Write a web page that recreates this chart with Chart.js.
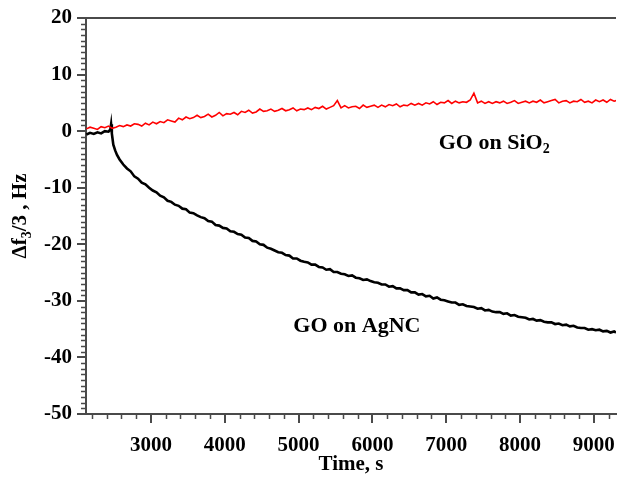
<!DOCTYPE html>
<html lang="en">
<head>
<meta charset="UTF-8">
<title>QCM frequency shift</title>
<script src="https://cdn.jsdelivr.net/npm/chart.js"></script>
<style>
  html, body { margin: 0; padding: 0; background: #fff; }
  #wrap { width: 617px; height: 477px; }
</style>
</head>
<body>
<div id="wrap"><canvas id="qcm" width="617" height="477"></canvas></div>
<script>
  // axis ticks
  const xTicks = [3000, 4000, 5000, 6000, 7000, 8000, 9000];
  const yTicks = [-50, -40, -30, -20, -10, 0, 10, 20];

  // GO on SiO2 (red)
  const redTime = [
    2125, 2175, 2225, 2275, 2325, 2375, 2425, 2475, 2525, 2575,
    2625, 2675, 2725, 2775, 2825, 2875, 2925, 2975, 3025, 3075,
    3125, 3175, 3225, 3275, 3325, 3375, 3425, 3475, 3525, 3575,
    3625, 3675, 3725, 3775, 3825, 3875, 3925, 3975, 4025, 4075,
    4125, 4175, 4225, 4275, 4325, 4375, 4425, 4475, 4525, 4575,
    4625, 4675, 4725, 4775, 4825, 4875, 4925, 4975, 5025, 5075,
    5125, 5175, 5225, 5275, 5325, 5375, 5425, 5475, 5525, 5575,
    5625, 5675, 5725, 5775, 5825, 5875, 5925, 5975, 6025, 6075,
    6125, 6175, 6225, 6275, 6325, 6375, 6425, 6475, 6525, 6575,
    6625, 6675, 6725, 6775, 6825, 6875, 6925, 6975, 7025, 7075,
    7125, 7175, 7225, 7275, 7325, 7375, 7425, 7475, 7525, 7575,
    7625, 7675, 7725, 7775, 7825, 7875, 7925, 7975, 8025, 8075,
    8125, 8175, 8225, 8275, 8325, 8375, 8425, 8475, 8525, 8575,
    8625, 8675, 8725, 8775, 8825, 8875, 8925, 8975, 9025, 9075,
    9125, 9175, 9225, 9275, 9300
  ];
  const redShift = [
    0.4, 0.7, 0.5, 0.3, 0.8, 0.6, 0.9, 0.5, 0.7, 1.0,
    0.8, 1.1, 0.9, 1.3, 1.2, 0.9, 1.4, 1.1, 1.6, 1.3,
    1.7, 1.5, 2.0, 1.8, 1.6, 2.3, 2.0, 2.5, 2.2, 2.4,
    2.8, 2.4, 2.6, 3.0, 2.5, 2.8, 3.3, 2.7, 3.1, 3.0,
    3.3, 2.9, 3.5, 3.3, 3.7, 3.2, 3.4, 3.9, 3.5, 3.6,
    3.9, 3.5, 3.7, 4.0, 3.6, 3.8, 4.1, 3.6, 3.9, 3.8,
    4.1, 3.8, 4.2, 4.0, 4.4, 3.9, 4.2, 4.5, 5.4, 4.1,
    4.5, 4.1, 4.3, 4.4, 4.0, 4.6, 4.2, 4.4, 4.6, 4.2,
    4.6, 4.3, 4.7, 4.5, 4.8, 4.3, 4.6, 4.5, 4.9, 4.6,
    4.9, 4.6, 5.0, 4.8, 5.2, 4.7, 5.1, 5.0, 5.4, 4.9,
    5.3, 5.0, 5.2, 5.1, 5.5, 6.7, 5.0, 5.3, 4.9, 5.2,
    4.9, 5.2, 5.0, 5.3, 4.9, 5.1, 5.4, 4.9, 5.1, 5.3,
    5.0, 5.3, 5.1, 5.5, 5.0, 5.2, 5.4, 5.6, 5.0, 5.3,
    5.4, 5.0, 5.3, 5.2, 5.6, 5.1, 5.3, 5.0, 5.5, 5.2,
    5.5, 5.1, 5.6, 5.3, 5.4
  ];

  // GO on AgNC (black)
  const blackTime = [
    2125, 2175, 2225, 2275, 2325, 2375, 2425, 2450, 2460, 2470, 2490, 2515, 2540, 2575, 2625,
    2675, 2725, 2775, 2825, 2875, 2925, 2975, 3025, 3075, 3125,
    3175, 3225, 3275, 3325, 3375, 3425, 3475, 3525, 3575, 3625,
    3675, 3725, 3775, 3825, 3875, 3925, 3975, 4025, 4075, 4125,
    4175, 4225, 4275, 4325, 4375, 4425, 4475, 4525, 4575, 4625,
    4675, 4725, 4775, 4825, 4875, 4925, 4975, 5025, 5075, 5125,
    5175, 5225, 5275, 5325, 5375, 5425, 5475, 5525, 5575, 5625,
    5675, 5725, 5775, 5825, 5875, 5925, 5975, 6025, 6075, 6125,
    6175, 6225, 6275, 6325, 6375, 6425, 6475, 6525, 6575, 6625,
    6675, 6725, 6775, 6825, 6875, 6925, 6975, 7025, 7075, 7125,
    7175, 7225, 7275, 7325, 7375, 7425, 7475, 7525, 7575, 7625,
    7675, 7725, 7775, 7825, 7875, 7925, 7975, 8025, 8075, 8125,
    8175, 8225, 8275, 8325, 8375, 8425, 8475, 8525, 8575, 8625,
    8675, 8725, 8775, 8825, 8875, 8925, 8975, 9025, 9075, 9125,
    9175, 9225, 9275, 9300
  ];
  const blackShift = [
    -0.6, -0.3, -0.5, -0.2, -0.4, 0.0, -0.1, 0.3, 1.2, -0.4, -2.4, -3.4, -4.2, -5.0, -5.9,
    -6.6, -7.1, -8.0, -8.4, -9.1, -9.4, -10.0, -10.5, -10.8, -11.4,
    -11.7, -12.3, -12.5, -13.0, -13.2, -13.7, -13.8, -14.4, -14.5, -14.9,
    -15.2, -15.4, -15.9, -16.0, -16.6, -16.7, -17.1, -17.2, -17.7, -17.8,
    -18.2, -18.3, -18.8, -18.9, -19.4, -19.5, -20.0, -20.1, -20.6, -20.8,
    -21.1, -21.4, -21.5, -21.9, -22.0, -22.5, -22.5, -22.9, -23.1, -23.2,
    -23.6, -23.6, -24.0, -24.1, -24.5, -24.4, -24.9, -24.9, -25.2, -25.3,
    -25.6, -25.5, -25.9, -26.0, -26.3, -26.2, -26.5, -26.7, -26.8, -27.1,
    -27.1, -27.5, -27.4, -27.8, -27.8, -28.1, -28.1, -28.5, -28.5, -28.9,
    -28.8, -29.2, -29.1, -29.6, -29.4, -29.8, -29.9, -30.1, -30.3, -30.3,
    -30.7, -30.6, -30.9, -31.0, -31.1, -31.4, -31.3, -31.7, -31.6, -31.9,
    -32.0, -32.0, -32.3, -32.2, -32.6, -32.5, -32.8, -32.9, -33.0, -33.3,
    -33.2, -33.5, -33.4, -33.7, -33.8, -33.8, -34.1, -34.0, -34.3, -34.2,
    -34.5, -34.4, -34.7, -34.8, -34.8, -35.1, -35.0, -35.2, -35.1, -35.4,
    -35.3, -35.6, -35.4, -35.6
  ];

  const axisColor = '#4a4a4a';
  const serif = '"Liberation Serif", "Times New Roman", serif';

  // minor ticks, top border, y title with subscript, curve labels
  const decorations = {
    id: 'decorations',
    afterDraw(chart) {
      const ctx = chart.ctx;
      const xs = chart.scales.x, ys = chart.scales.y;
      const area = chart.chartArea;
      ctx.save();
      ctx.strokeStyle = axisColor;
      ctx.lineWidth = 1.5;
      ctx.beginPath();
      for (let v = 2200; v <= 9300; v += 200) {
        if (v % 1000 === 0) continue;
        const px = Math.round(xs.getPixelForValue(v)) + 0.5;
        ctx.moveTo(px, area.bottom);
        ctx.lineTo(px, area.bottom + 5);
      }
      for (let v = -50; v <= 20; v += 1) {
        if (v % 10 === 0) continue;
        const py = Math.round(ys.getPixelForValue(v)) + 0.5;
        ctx.moveTo(area.left, py);
        ctx.lineTo(area.left - 5, py);
      }
      ctx.stroke();

      // top frame line
      ctx.lineWidth = 2;
      ctx.beginPath();
      ctx.moveTo(area.left, area.top);
      ctx.lineTo(area.right, area.top);
      ctx.stroke();

      ctx.fillStyle = '#000';
      ctx.textBaseline = 'middle';

      // text with one subscript part
      function subText(parts, cx, cy, size) {
        const big = 'bold ' + size + 'px ' + serif;
        const small = 'bold ' + Math.round(size * 0.65) + 'px ' + serif;
        let total = 0;
        parts.forEach(p => { ctx.font = p.sub ? small : big; total += ctx.measureText(p.t).width; });
        let x = cx - total / 2;
        parts.forEach(p => {
          ctx.font = p.sub ? small : big;
          ctx.fillText(p.t, x, cy + (p.sub ? size * 0.3 : 0));
          x += ctx.measureText(p.t).width;
        });
      }

      // y axis title
      ctx.save();
      ctx.translate(21, (area.top + area.bottom) / 2);
      ctx.rotate(-Math.PI / 2);
      subText([{t: '\u0394f'}, {t: '3', sub: true}, {t: '/3 , Hz'}], 0, 0, 21);
      ctx.restore();

      // curve labels
      subText([{t: 'GO on SiO'}, {t: '2', sub: true}], xs.getPixelForValue(7650), ys.getPixelForValue(-2.1), 22);
      subText([{t: 'GO on AgNC'}], xs.getPixelForValue(5790), ys.getPixelForValue(-34.5), 22);
      ctx.restore();
    }
  };

  const ctx = document.getElementById('qcm').getContext('2d');
  new Chart(ctx, {
    type: 'line',
    data: {
      datasets: [
        {
          label: 'GO on SiO2',
          data: redTime.map((t, i) => ({x: t, y: redShift[i]})),
          borderColor: '#ff0000',
          borderWidth: 1.6,
          pointRadius: 0,
          tension: 0,
          order: 0
        },
        {
          label: 'GO on AgNC',
          data: blackTime.map((t, i) => ({x: t, y: blackShift[i]})),
          borderColor: '#000000',
          borderWidth: 2.6,
          pointRadius: 0,
          tension: 0,
          order: 1
        }
      ]
    },
    options: {
      responsive: false,
      animation: false,
      devicePixelRatio: 1,
      layout: { autoPadding: false, padding: { top: 18, right: 1, left: 0, bottom: 0 } },
      plugins: { legend: { display: false }, tooltip: { enabled: false } },
      scales: {
        x: {
          type: 'linear',
          min: 2120,
          max: 9300,
          afterBuildTicks: s => { s.ticks = xTicks.map(v => ({value: v})); },
          afterFit: s => { s.height = 63; s.paddingLeft = 0; s.paddingRight = 0; },
          ticks: {
            color: '#000',
            padding: 10,
            maxRotation: 0,
            callback: v => String(v),
            font: { family: serif, size: 21, weight: 'bold' }
          },
          grid: { display: true, drawOnChartArea: false, drawTicks: true, tickLength: 9, color: axisColor, lineWidth: 2 },
          border: { display: true, color: axisColor, width: 2 },
          title: {
            display: true,
            text: 'Time, s',
            color: '#000',
            padding: { top: 0, bottom: 0 },
            font: { family: serif, size: 21, weight: 'bold' }
          }
        },
        y: {
          min: -50,
          max: 20,
          afterBuildTicks: s => { s.ticks = yTicks.map(v => ({value: v})); },
          afterFit: s => { s.width = 86; s.paddingTop = 0; s.paddingBottom = 0; },
          ticks: {
            color: '#000',
            padding: 5,
            font: { family: serif, size: 21, weight: 'bold' }
          },
          grid: { display: true, drawOnChartArea: false, drawTicks: true, tickLength: 9, color: axisColor, lineWidth: 2 },
          border: { display: true, color: axisColor, width: 2 }
        }
      }
    },
    plugins: [decorations]
  });
</script>
</body>
</html>
